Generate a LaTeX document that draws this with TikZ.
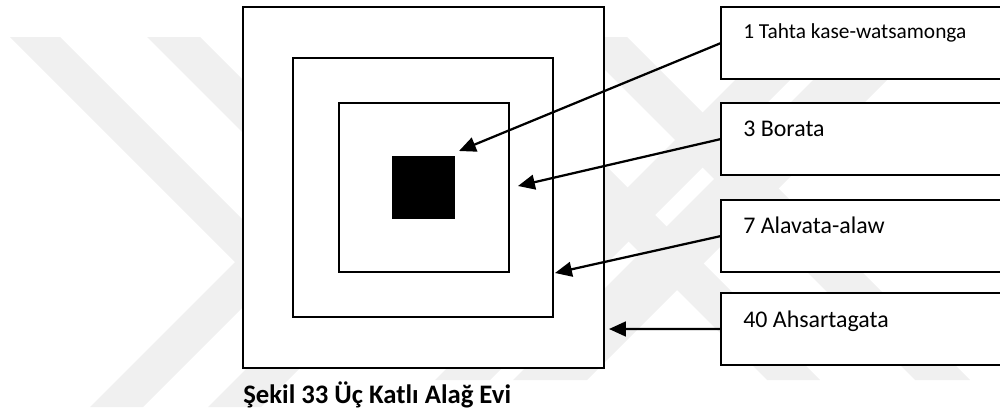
\documentclass[tikz,border=0pt]{standalone}
\usepackage{fontspec}
\setmainfont{Carlito}
\usepackage{tikz}
\usetikzlibrary{
  arrows.meta,
  positioning
}
\definecolor{wmark}{RGB}{240,240,240}

\begin{document}
\begin{tikzpicture}[
            x=0.025cm, y=-0.025cm,
            sq/.style={draw=black, line width=1.6pt, fill=white, inner sep=0pt, outer sep=0pt},
            lbox/.style={draw=black, line width=1.6pt, fill=white, inner sep=0pt, outer sep=0pt, minimum width=7.1cm, minimum height=1.8cm, anchor=north west},
            ltext/.style={anchor=base west, inner sep=0pt, font=\fontsize{17}{20}\selectfont},
            ptr/.style={line width=1.6pt, -{Triangle[length=12pt, width=10.5pt]}}
        ]
            \useasboundingbox (0,0) rectangle (1000,414);
            % faint background watermark
            \fill[wmark] (10,37) -- (60,37) -- (286.5,263.5) -- (143,407) -- (90,407) -- (235,262) -- cycle;
            \fill[wmark] (147,37) -- (200,37) -- (415.5,252.5) -- (261,407) -- (208,407) -- (362.5,252.5) -- cycle;
            \fill[wmark] (778,37) -- (833,37) -- (490,380) -- (435,380) -- cycle;
            \fill[wmark] (856,37) -- (930,37) -- (587,380) -- (513,380) -- cycle;
            \fill[wmark] (424,37) -- (477,37) -- (820,380) -- (767,380) -- cycle;
            \fill[wmark] (572,37) -- (627,37) -- (970,380) -- (915,380) -- cycle;

            % house plan: nested squares
            \node[sq, minimum width=9.025cm, minimum height=9.025cm] (outer) at (423.5,187.5) {};
            \node[sq, minimum width=6.5cm, minimum height=6.475cm] (middle) at (423,187.5) {};
            \node[sq, minimum width=4.25cm, minimum height=4.225cm] (inner) at (424,187.5) {};
            \node[fill=black, inner sep=0pt, minimum size=1.575cm] (core) at (423.5,187.5) {};

            % label boxes on the right
            \node[lbox] (b1) at (721,7) {};
            \node[lbox] (b3) at (721,103) {};
            \node[lbox] (b7) at (721,200) {};
            \node[lbox] (b40) at (721,293) {};
            \node[ltext, font=\fontsize{15.2}{18}\selectfont] (t1) at (743,38) {1 Tahta kase-watsamonga};
            \node[ltext] (t3) at (743,136) {3 Borata};
            \node[ltext] (t7) at (743,233) {7 Alavata-alaw};
            \node[ltext] (t40) at (743,327) {40 Ahsartagata};

            % arrow ends
            \coordinate (e1) at (459,151);
            \coordinate (e3) at (518,186);
            \coordinate (e7) at (555,273);
            \coordinate (e40) at (609,329);
            \draw[ptr] (b1.west) -- (e1);
            \draw[ptr] (b3.west) -- (e3);
            \draw[ptr] (b7.west) -- (e7);
            \draw[ptr] (b40.west) -- (e40);

            % caption
            \node[anchor=base west, inner sep=0pt, font=\fontsize{19}{23}\selectfont\bfseries] (cap) at (243,403) {Şekil 33 Üç Katlı Alağ Evi};
        \end{tikzpicture}
\end{document}
